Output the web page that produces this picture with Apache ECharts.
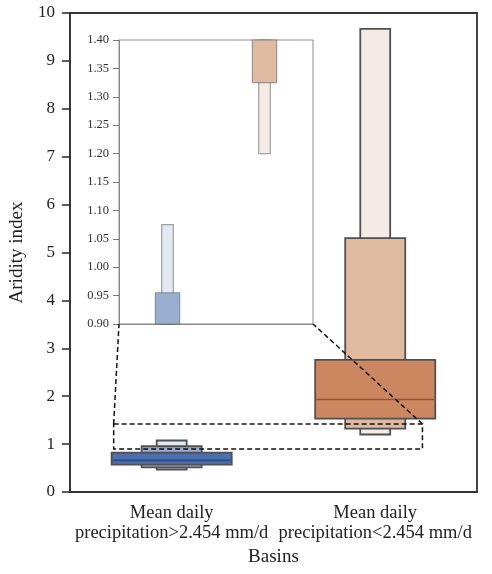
<!DOCTYPE html>
<html>
<head>
<meta charset="utf-8">
<script src="https://cdn.jsdelivr.net/npm/echarts@6/dist/echarts.min.js"></script>
<style>html,body{margin:0;padding:0;background:#fff;}#c{width:492px;height:574px;}</style>
</head>
<body>
<div id="c"></div>
<script>
// ---- data ----
const categories = ['Mean daily\nprecipitation>2.454 mm/d', 'Mean daily\nprecipitation<2.454 mm/d'];
// boxen levels (innermost first): lower / upper bounds
const wetLow = [0.57, 0.515, 0.47];
const wetHigh = [0.82, 0.955, 1.075];
const wetMedian = 0.66;
const dryLow = [1.53, 1.325, 1.20];
const dryHigh = [2.76, 5.30, 9.67];
const dryMedian = 1.93;
const yTicksMain = [0, 10, 1];
const insetRange = [0.90, 1.40, 0.05];
// zoom region marked on main axes (x in category-band units, y in data units)
const zoomX = [-0.285, 1.232];
const zoomY = [0.90, 1.42];

// ---- style ----
const wetColors = ['#4b6faf', '#9aafcf', '#e3e9f2'];
const dryColors = ['#cd8760', '#e0b9a1', '#f5ebe6'];
const medianColors = ['#2d4a7e', '#8e5638'];
const mainWidths = [0.59, 0.295, 0.147];
const insetWidths = [0.5, 0.25, 0.12];
const FONT = 'Liberation Serif';

const G = {left: 68, top: 13, right: 15, bottom: 82};
const I = {left: 119, top: 40, width: 194, height: 284};

function buildData() {
  const out = [];
  [[wetLow, wetHigh, wetMedian], [dryLow, dryHigh, dryMedian]].forEach((d, ci) => {
    for (let l = 2; l >= 0; l--) out.push([ci, d[0][l], d[1][l], l, l === 0 ? d[2] : null]);
  });
  return out;
}
const boxData = buildData();

function boxRender(widths, inset) {
  return function (params, api) {
    const ci = api.value(0);
    let lo = api.value(1), hi = api.value(2);
    const lvl = api.value(3);
    const med = api.value(4);
    if (inset) {
      if (hi < insetRange[0] || lo > insetRange[1]) return;
      lo = Math.max(lo, insetRange[0]);
      hi = Math.min(hi, insetRange[1]);
    }
    const band = api.size([1, 0])[0];
    const w = band * widths[lvl];
    const pLo = api.coord([ci, lo]);
    const pHi = api.coord([ci, hi]);
    const fill = (ci === 0 ? wetColors : dryColors)[lvl];
    const children = [{
      type: 'rect',
      shape: {x: pLo[0] - w / 2, y: pHi[1], width: w, height: pLo[1] - pHi[1]},
      style: {fill: fill, stroke: inset ? 'rgba(90,90,90,0.55)' : '#505050', lineWidth: inset ? 1.2 : 1.8}
    }];
    if (!inset && med != null && !isNaN(med)) {
      const pm = api.coord([ci, med]);
      children.push({
        type: 'line',
        shape: {x1: pm[0] - w / 2 + 1, y1: pm[1], x2: pm[0] + w / 2 - 1, y2: pm[1]},
        style: {stroke: medianColors[ci], lineWidth: 1.6}
      });
    }
    return {type: 'group', children: children};
  };
}

const chart = echarts.init(document.getElementById('c'), null, {renderer: 'canvas'});
const option = {
  backgroundColor: '#fff',
  animation: false,
  textStyle: {fontFamily: FONT},
  grid: [
    {left: G.left, top: G.top, right: G.right, bottom: G.bottom, show: true, borderColor: '#333', borderWidth: 1.8, backgroundColor: 'transparent', z: 0},
    {left: I.left, top: I.top, width: I.width, height: I.height, show: true, borderColor: '#8a8a8a', borderWidth: 1, backgroundColor: '#fff', z: 3}
  ],
  xAxis: [
    {type: 'category', gridIndex: 0, data: categories,
     axisLine: {show: true, onZero: false, lineStyle: {color: '#333', width: 1.8}},
     axisTick: {show: false},
     axisLabel: {fontFamily: FONT, fontSize: 18.5, color: '#222', margin: 11, lineHeight: 20, interval: 0},
     name: 'Basins', nameLocation: 'middle', nameGap: 55,
     nameTextStyle: {fontFamily: FONT, fontSize: 19, color: '#222'}},
    {type: 'value', gridIndex: 0, min: -0.5, max: 1.5, show: false},
    {type: 'category', gridIndex: 1, data: categories, show: true,
     axisLine: {show: true, onZero: false, lineStyle: {color: '#8a8a8a', width: 1}},
     axisTick: {show: false}, axisLabel: {show: false}, z: 4}
  ],
  yAxis: [
    {type: 'value', gridIndex: 0, min: yTicksMain[0], max: yTicksMain[1], interval: yTicksMain[2],
     axisLine: {show: true, onZero: false, lineStyle: {color: '#333', width: 1.8}},
     axisTick: {show: true, length: 8, lineStyle: {color: '#333', width: 1.6}},
     axisLabel: {fontFamily: FONT, fontSize: 17, color: '#222', margin: 15},
     splitLine: {show: false},
     name: 'Aridity index', nameLocation: 'middle', nameGap: 37,
     nameTextStyle: {fontFamily: FONT, fontSize: 19, color: '#222'}},
    {type: 'value', gridIndex: 1, min: insetRange[0], max: insetRange[1], interval: insetRange[2],
     axisLine: {show: true, onZero: false, lineStyle: {color: '#8a8a8a', width: 1}},
     axisTick: {show: true, length: 6, lineStyle: {color: '#777', width: 1}},
     axisLabel: {fontFamily: FONT, fontSize: 12.5, color: '#333', margin: 10, formatter: v => v.toFixed(2)},
     splitLine: {show: false}, z: 4}
  ],
  series: [
    {type: 'custom', xAxisIndex: 0, yAxisIndex: 0, renderItem: boxRender(mainWidths, false),
     encode: {x: 0, y: [1, 2]}, data: boxData, z: 2},
    {type: 'custom', xAxisIndex: 2, yAxisIndex: 1, renderItem: boxRender(insetWidths, true),
     encode: {x: 0, y: [1, 2]}, data: boxData, z: 5},
    {type: 'custom', xAxisIndex: 1, yAxisIndex: 0, z: 6,
     data: [[zoomX[0], zoomY[0], zoomX[1], zoomY[1]]],
     encode: {x: [0, 2], y: [1, 3]},
     renderItem: function (params, api) {
       const a = api.coord([api.value(0), api.value(3)]);
       const b = api.coord([api.value(2), api.value(1)]);
       return {type: 'rect', shape: {x: a[0], y: a[1], width: b[0] - a[0], height: b[1] - a[1]},
               style: {fill: 'none', stroke: '#111', lineWidth: 1.5, lineDash: [5, 3]}};
     }}
  ]
};
chart.setOption(option);

// connector lines: zoom region top corners -> inset bottom corners
const tl = chart.convertToPixel({xAxisIndex: 1, yAxisIndex: 0}, [zoomX[0], zoomY[1]]);
const tr = chart.convertToPixel({xAxisIndex: 1, yAxisIndex: 0}, [zoomX[1], zoomY[1]]);
const insetBottom = I.top + I.height;
chart.setOption({
  graphic: [
    {type: 'line', z: 100, shape: {x1: tl[0], y1: tl[1], x2: I.left, y2: insetBottom},
     style: {stroke: '#111', lineWidth: 1.5, lineDash: [5, 3]}},
    {type: 'line', z: 100, shape: {x1: tr[0], y1: tr[1], x2: I.left + I.width, y2: insetBottom},
     style: {stroke: '#111', lineWidth: 1.5, lineDash: [5, 3]}}
  ]
});
</script>
</body>
</html>
